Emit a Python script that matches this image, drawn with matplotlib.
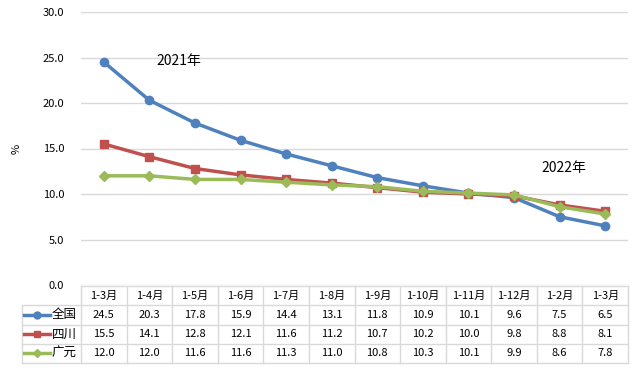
import matplotlib.pyplot as plt
import numpy as np

plt.rcParams['font.family'] = ['Noto Sans CJK SC', 'DejaVu Sans']

months = ["1-3月", "1-4月", "1-5月", "1-6月", "1-7月", "1-8月", "1-9月",
          "1-10月", "1-11月", "1-12月", "1-2月", "1-3月"]
names = ["全国", "四川", "广元"]
quanguo = [24.5, 20.3, 17.8, 15.9, 14.4, 13.1, 11.8, 10.9, 10.1, 9.6, 7.5, 6.5]
sichuan = [15.5, 14.1, 12.8, 12.1, 11.6, 11.2, 10.7, 10.2, 10.0, 9.8, 8.8, 8.1]
guangyuan = [12.0, 12.0, 11.6, 11.6, 11.3, 11.0, 10.8, 10.3, 10.1, 9.9, 8.6, 7.8]
series = [quanguo, sichuan, guangyuan]

colors = ["#4F81BD", "#C0504D", "#9BBB59"]
markers = ["o", "s", "D"]
msizes = [6, 6, 5]
grid_c = "#D9D9D9"

W, H = 636, 370
fig = plt.figure(figsize=(W / 100, H / 100), dpi=100)

# plot area in pixels
x0, x1 = 81, 628
y_top, y_bot = 12, 285
ax = fig.add_axes([x0 / W, 1 - y_bot / H, (x1 - x0) / W, (y_bot - y_top) / H])

x = np.arange(len(months))
for s, c, m, ms in zip(series, colors, markers, msizes):
    ax.plot(x, s, color=c, marker=m, markersize=ms, linewidth=2.5, zorder=3)

ax.set_xlim(-0.5, len(months) - 0.5)
ax.set_ylim(0, 30)
ax.set_yticks(np.arange(0, 31, 5))
ax.set_yticklabels([f"{v:.1f}" for v in np.arange(0, 31, 5)], fontsize=8)
ax.set_xticks([])
ax.tick_params(axis="y", length=0, pad=12)
ax.yaxis.grid(True, color=grid_c, linewidth=1)
ax.set_axisbelow(True)
for sp in ax.spines.values():
    sp.set_visible(False)
ax.set_ylabel("%", fontsize=8)
ax.yaxis.set_label_coords((22 - x0) / (x1 - x0), 0.5)

ax.text(1.15, 24.6, "2021年", fontsize=10, ha="left", va="center")
ax.text(9.6, 12.9, "2022年", fontsize=10, ha="left", va="center")

# data table below the plot
t_top, t_bot = 286, 363
tax = fig.add_axes([x0 / W, 1 - t_bot / H, (x1 - x0) / W, (t_bot - t_top) / H])
tax.set_xlim(-0.5, len(months) - 0.5)
tax.set_ylim(0, 4)
tax.axis("off")
unit = (x1 - x0) / len(months)
lab_left = -0.5 - (x0 - 22) / unit

lk = dict(color=grid_c, linewidth=1, clip_on=False)
tax.plot([-0.5, len(months) - 0.5], [4, 4], **lk)
for r in range(4):
    tax.plot([lab_left, len(months) - 0.5], [r, r], **lk)
tax.plot([lab_left, lab_left], [0, 3], **lk)
for i in range(len(months) + 1):
    tax.plot([i - 0.5, i - 0.5], [0, 4], **lk)

for i, mname in enumerate(months):
    tax.text(i, 3.5, mname, fontsize=8, ha="center", va="center")

for r, (nm, s, c, m, ms) in enumerate(zip(names, series, colors, markers, msizes)):
    yc = 2.5 - r
    for i, v in enumerate(s):
        tax.text(i, yc, f"{v:.1f}", fontsize=8, ha="center", va="center")
    k0 = lab_left + 2 / unit
    k1 = lab_left + 28 / unit
    tax.plot([k0, k1], [yc, yc], color=c, linewidth=2.5, clip_on=False)
    tax.plot([(k0 + k1) / 2], [yc], color=c, marker=m, markersize=ms - 1, clip_on=False)
    tax.text(lab_left + 30 / unit, yc, nm, fontsize=9, ha="left", va="center")

fig.savefig("out.png", dpi=100)
